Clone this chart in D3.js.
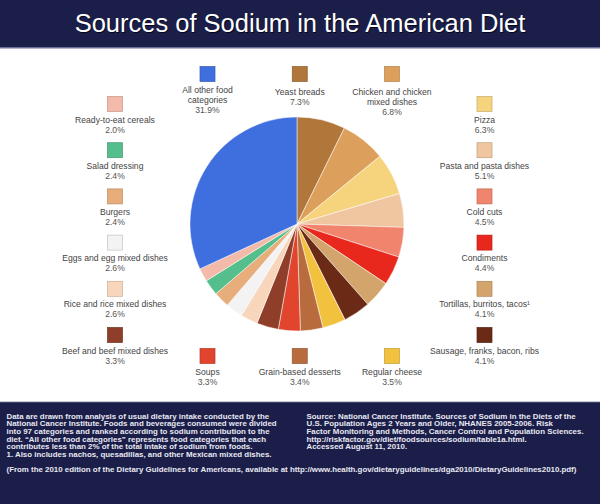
<!DOCTYPE html>
<html>
<head>
<meta charset="utf-8">
<script src="https://cdn.jsdelivr.net/npm/d3@7"></script>
<style>
  body { margin: 0; background: #fff; }
  svg { display: block; font-family: "Liberation Sans", Arial, Helvetica, sans-serif; }
</style>
</head>
<body>
<div id="chart"></div>
<script>
// categories in pie order, clockwise from 12 o'clock
const categories = [
  "Yeast breads", "Chicken and chicken\nmixed dishes", "Pizza", "Pasta and pasta dishes",
  "Cold cuts", "Condiments", "Tortillas, burritos, tacos\u00b9", "Sausage, franks, bacon, ribs",
  "Regular cheese", "Grain-based desserts", "Soups", "Beef and beef mixed dishes",
  "Rice and rice mixed dishes", "Eggs and egg mixed dishes", "Burgers", "Salad dressing",
  "Ready-to-eat cereals", "All other food\ncategories"
];
const shares = [7.3, 6.8, 6.3, 5.1, 4.5, 4.4, 4.1, 4.1, 3.5, 3.4, 3.3, 3.3, 2.6, 2.6, 2.4, 2.4, 2.0, 31.9];
const colors = [
  "#b0763a", "#dca05c", "#f6d47e", "#efc6a0", "#f0846c", "#e8281c", "#d3a56c", "#6a2a16",
  "#f2c23e", "#b86b3c", "#e1452e", "#8f3f29", "#f8d6bb", "#f3f3f3", "#e7ad7b", "#54be8c",
  "#f3baa9", "#3f6fdf"
];

// legend groups (category index), laid out round the pie
const legendTop = [17, 0, 1];
const legendRight = [2, 3, 4, 5, 6, 7];
const legendBottom = [10, 9, 8];
const legendLeft = [16, 15, 14, 13, 12, 11];

const footLeft = [
  "Data are drawn from analysis of usual dietary intake conducted by the",
  "National Cancer Institute. Foods and beverages consumed were divided",
  "into 97 categories and ranked according to sodium contribution to the",
  "diet. \u201cAll other food categories\u201d represents food categories that each",
  "contributes less than 2% of the total intake of sodium from foods.",
  "1. Also includes nachos, quesadillas, and other Mexican mixed dishes."
];
const footRight = [
  "Source: National Cancer Institute. Sources of Sodium in the Diets of the",
  "U.S. Population Ages 2 Years and Older, NHANES 2005-2006. Risk",
  "Factor Monitoring and Methods, Cancer Control and Population Sciences.",
  "http://riskfactor.gov/diet/foodsources/sodium/table1a.html.",
  "Accessed August 11, 2010."
];
const footNote = "(From the 2010 edition of the Dietary Guidelines for Americans, available at http://www.health.gov/dietaryguidelines/dga2010/DietaryGuidelines2010.pdf)";

const W = 600, H = 504;
const navy = "#1b1e48";

const svg = d3.select("#chart").append("svg")
  .attr("width", W).attr("height", H);

// header
svg.append("rect").attr("x", 0).attr("y", 0).attr("width", W).attr("height", 48).attr("fill", navy);
svg.append("rect").attr("x", 0).attr("y", 47).attr("width", W).attr("height", 1.5).attr("fill", "#6a6f94");
svg.append("text")
  .attr("x", W / 2 + 0.8).attr("y", 32.6)
  .attr("text-anchor", "middle").attr("font-size", 25.5).attr("fill", "#05061a")
  .text("Sources of Sodium in the American Diet");
svg.append("text")
  .attr("x", W / 2).attr("y", 31.8)
  .attr("text-anchor", "middle").attr("font-size", 25.5).attr("fill", "#fff")
  .text("Sources of Sodium in the American Diet");

// footer
svg.append("rect").attr("x", 0).attr("y", 402).attr("width", W).attr("height", H - 402).attr("fill", navy);
svg.append("rect").attr("x", 0).attr("y", 401).attr("width", W).attr("height", 1.2).attr("fill", "#c9cbd8");

function footBlock(lines, x, y0) {
  svg.append("g").selectAll("text")
    .data(lines)
    .join("text")
    .attr("x", x)
    .attr("y", (d, i) => y0 + i * 7.7)
    .attr("font-size", 7.9)
    .attr("font-weight", "bold")
    .attr("fill", "#e8e8f2")
    .text(d => d);
}
footBlock(footLeft, 6.5, 418.5);
footBlock(footRight, 306.5, 418.5);
footBlock([footNote], 6.5, 471.5);

// pie
const cx = 297, cy = 224, r = 107;
const pie = d3.pie().sort(null).value(d => d)(shares);
const arc = d3.arc().innerRadius(0).outerRadius(r);

svg.append("g")
  .attr("transform", `translate(${cx},${cy})`)
  .selectAll("path")
  .data(pie)
  .join("path")
  .attr("d", arc)
  .attr("fill", (d, i) => colors[i])
  .attr("stroke", "#fff")
  .attr("stroke-width", 0.5);

// legend
const rowX = d3.scalePoint().domain([0, 1, 2]).range([207.5, 392]);
const colY = d3.scalePoint().domain(d3.range(6)).range([104, 335]);
const items = [];
legendTop.forEach((c, i) => items.push({ c, x: rowX(i), y: 74 }));
legendBottom.forEach((c, i) => items.push({ c, x: rowX(i), y: 356 }));
legendLeft.forEach((c, i) => items.push({ c, x: 115, y: colY(i) }));
legendRight.forEach((c, i) => items.push({ c, x: 484.5, y: colY(i) }));

const fmt = d => d3.format(".1f")(d) + "%";
const sq = 15;

const leg = svg.append("g").selectAll("g")
  .data(items)
  .join("g")
  .attr("transform", d => `translate(${d.x},${d.y})`);

leg.append("rect")
  .attr("x", -sq / 2).attr("y", -sq / 2)
  .attr("width", sq).attr("height", sq)
  .attr("fill", d => colors[d.c])
  .attr("stroke", d => d3.color(colors[d.c]).darker(0.6))
  .attr("stroke-width", 0.7);

leg.each(function (d) {
  const g = d3.select(this);
  const lines = categories[d.c].split("\n").concat(fmt(shares[d.c]));
  const off = (d.y < 100 && d.c !== 17) ? 20.5 : 18.5;
  g.selectAll("text")
    .data(lines)
    .join("text")
    .attr("x", 0)
    .attr("y", (t, i) => off + i * 10)
    .attr("text-anchor", "middle")
    .attr("font-size", 8.6)
    .attr("fill", (t, i) => i === lines.length - 1 ? "#555" : "#444")
    .text(t => t);
});
</script>
</body>
</html>
